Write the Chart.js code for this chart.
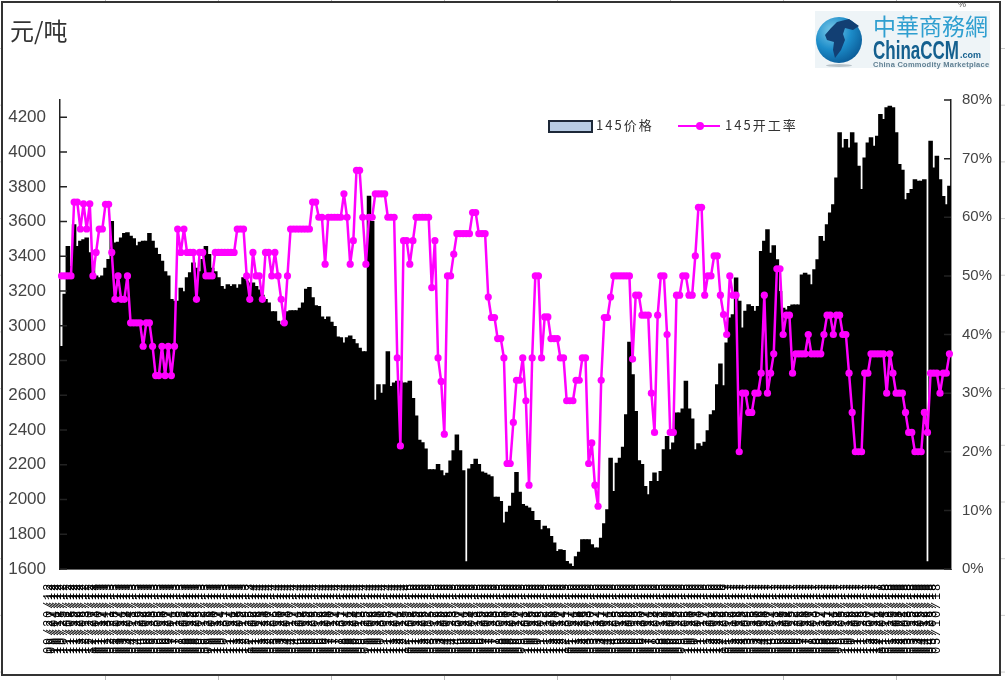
<!DOCTYPE html>
<html lang="zh">
<head>
<meta charset="utf-8">
<title>145价格 145开工率</title>
<script src="https://cdn.jsdelivr.net/npm/chart.js@4"></script>
<style>
  html, body { margin: 0; padding: 0; background: #fff; }
  #page {
    position: relative; width: 1005px; height: 680px; overflow: hidden;
    background:
      linear-gradient(90deg, #bbb 1px, transparent 1px) 105px 0 / 113px 100%,
      linear-gradient(#ccc 1px, transparent 1px) 0 48px / 100% 56.7px,
      #fff;
  }
  #frame {
    position: absolute; left: 1px; top: 1px; width: 996px; height: 671px;
    border: 2px solid #333; background: #fff;
  }
  canvas { position: absolute; left: 0; top: 0; }
  .txt { position: absolute; white-space: nowrap; font-family: "Noto Sans CJK SC", sans-serif; color: #333; }
  #unit { left: 10px; top: 13px; font-size: 24px; line-height: 34px; }
  #cut { left: 958px; top: -1px; font: 9px "Liberation Sans"; color: #555; }
  .leg { font-size: 13px; line-height: 16px; letter-spacing: 2px; color: #333; top: 117px; }
  #swatch { position: absolute; left: 548px; top: 120px; width: 41px; height: 9px; background: #b8cce4; border: 2px solid #1d2838; }
  #legline { position: absolute; left: 678px; top: 125px; width: 42px; height: 2px; background: #ff00ff; }
  #legdot { position: absolute; left: 696px; top: 122px; width: 8px; height: 8px; border-radius: 50%; background: #ff00ff; }
  #logo { position: absolute; left: 815px; top: 11px; width: 175px; height: 57px; background: #eef4f7; }
  #globe { position: absolute; left: 815px; top: 16px; width: 48px; height: 48px; }
  #shadow { position: absolute; left: 826px; top: 64px; width: 26px; height: 3px; border-radius: 50%; background: #b9c3c9; }
  #cn { left: 873px; top: 8px; font-size: 23px; line-height: 34px; color: #2f9fd0; }
  #en { left: 873px; top: 37px; font: bold 25px/26px "Liberation Sans"; color: #15608f; transform: scaleX(.68); transform-origin: 0 0; }
  #com { left: 960px; top: 49px; font: bold 9px/12px "Liberation Sans"; color: #15608f; }
  #sub { left: 873px; top: 60px; font: bold 7.5px/9px "Liberation Sans"; letter-spacing: .25px; color: #5f7f92; }
</style>
</head>
<body>
<div id="page">
  <div id="frame"></div>
  <canvas id="chart" width="1005" height="680"></canvas>
  <div class="txt" id="unit">元/吨</div>
  <div class="txt" id="cut">%</div>
  <div id="swatch"></div>
  <div class="txt leg" style="left:596px">145价格</div>
  <div id="legline"></div><div id="legdot"></div>
  <div class="txt leg" style="left:725px">145开工率</div>
  <div id="logo"></div>
  <svg id="globe" viewBox="0 0 48 48">
    <defs>
      <radialGradient id="sea" cx="35%" cy="30%" r="75%">
        <stop offset="0" stop-color="#7ccbea"/>
        <stop offset=".55" stop-color="#1c8cc9"/>
        <stop offset="1" stop-color="#0b5c98"/>
      </radialGradient>
    </defs>
    <circle cx="24" cy="24" r="23" fill="url(#sea)"/>
    <path d="M22 6 L34 3 L44 10 L38 14 L30 12 L28 18 L30 24 L26 34 L20 42 L18 34 L19 26 L12 24 L10 19 L16 12 Z" fill="#123f73"/>
  </svg>
  <div id="shadow"></div>
  <div class="txt" id="cn">中華商務網</div>
  <div class="txt" id="en">ChinaCCM</div>
  <div class="txt" id="com">.com</div>
  <div class="txt" id="sub">China Commodity Marketplace</div>
</div>
<script>
// =======================
// data
// =======================

const dates2012 = [
  '09/20/12','09/27/12','10/04/12','10/11/12','10/18/12','10/25/12','11/01/12','11/08/12','11/15/12','11/22/12',
  '11/29/12','12/06/12','12/13/12','12/20/12','12/27/12'
];
const dates2013 = [
  '01/03/13','01/10/13','01/17/13','01/24/13','01/31/13','02/21/13','02/28/13','03/07/13','03/14/13','03/21/13',
  '03/28/13','04/04/13','04/11/13','04/18/13','04/25/13','05/02/13','05/09/13','05/16/13','05/23/13','05/30/13',
  '06/06/13','06/13/13','06/20/13','06/27/13','07/04/13','07/11/13','07/18/13','07/25/13','08/01/13','08/08/13',
  '08/15/13','08/22/13','08/29/13','09/05/13','09/12/13','09/19/13','09/26/13','10/03/13','10/10/13','10/17/13',
  '10/24/13','10/31/13','11/07/13','11/14/13','11/21/13','11/28/13','12/05/13','12/12/13','12/19/13','12/26/13'
];
const dates2014 = [
  '01/02/14','01/09/14','01/16/14','01/23/14','02/13/14','02/20/14','02/27/14','03/06/14','03/13/14','03/20/14',
  '03/27/14','04/03/14','04/10/14','04/17/14','04/24/14','05/01/14','05/08/14','05/15/14','05/22/14','05/29/14',
  '06/05/14','06/12/14','06/19/14','06/26/14','07/03/14','07/10/14','07/17/14','07/24/14','07/31/14','08/07/14',
  '08/14/14','08/21/14','08/28/14','09/04/14','09/11/14','09/18/14','09/25/14','10/02/14','10/09/14','10/16/14',
  '10/23/14','10/30/14','11/06/14','11/13/14','11/20/14','11/27/14','12/04/14','12/11/14','12/18/14','12/25/14'
];
const dates2015 = [
  '01/01/15','01/08/15','01/15/15','01/22/15','01/29/15','02/05/15','02/12/15','03/05/15','03/12/15','03/19/15',
  '03/26/15','04/02/15','04/09/15','04/16/15','04/23/15','04/30/15','05/07/15','05/14/15','05/21/15','05/28/15',
  '06/04/15','06/11/15','06/18/15','06/25/15','07/02/15','07/09/15','07/16/15','07/23/15','07/30/15','08/06/15',
  '08/13/15','08/20/15','08/27/15','09/03/15','09/10/15','09/17/15','09/24/15','10/01/15','10/08/15','10/15/15',
  '10/22/15','10/29/15','11/05/15','11/12/15','11/19/15','11/26/15','12/03/15','12/10/15','12/17/15','12/24/15',
  '12/31/15'
];
const dates2016 = [
  '01/07/16','01/14/16','01/21/16','01/28/16','02/18/16','02/25/16','03/03/16','03/10/16','03/17/16','03/24/16',
  '03/31/16','04/07/16','04/14/16','04/21/16','04/28/16','05/05/16','05/12/16','05/19/16','05/26/16','06/02/16',
  '06/09/16','06/16/16','06/23/16','06/30/16','07/07/16','07/14/16','07/21/16','07/28/16','08/04/16','08/11/16',
  '08/18/16','08/25/16','09/01/16','09/08/16','09/15/16','09/22/16','09/29/16','10/06/16','10/13/16','10/20/16',
  '10/27/16','11/03/16','11/10/16','11/17/16','11/24/16','12/01/16','12/08/16','12/15/16','12/22/16','12/29/16'
];
const dates2017 = [
  '01/05/17','01/12/17','01/19/17','02/09/17','02/16/17','02/23/17','03/02/17','03/09/17','03/16/17','03/23/17',
  '03/30/17','04/06/17','04/13/17','04/20/17','04/27/17','05/04/17','05/11/17','05/18/17','05/25/17','06/01/17',
  '06/08/17','06/15/17','06/22/17','06/29/17','07/06/17','07/13/17','07/20/17','07/27/17','08/03/17','08/10/17',
  '08/17/17','08/24/17','08/31/17','09/07/17','09/14/17','09/21/17','09/28/17','10/05/17','10/12/17','10/19/17',
  '10/26/17','11/02/17','11/09/17','11/16/17','11/23/17','11/30/17','12/07/17','12/14/17','12/21/17','12/28/17'
];
const dates2018 = [
  '01/04/18','01/11/18','01/18/18','01/25/18','02/01/18','02/08/18','02/22/18','03/01/18','03/08/18','03/15/18',
  '03/22/18','03/29/18','04/05/18','04/12/18','04/19/18','04/26/18','05/03/18','05/10/18'
];
const categories = [...dates2012, ...dates2013, ...dates2014, ...dates2015, ...dates2016, ...dates2017, ...dates2018];

// 145价格 (元/吨)
const priceValues = [
  2880,3180,3455,3340,3580,3455,3485,3495,3505,3420,
  3360,3285,3275,3285,3330,3380,3600,3475,3480,3505,
  3530,3535,3515,3500,3460,3480,3485,3485,3530,3485,
  3445,3410,3370,3310,3285,3150,3140,3140,3215,3195,
  3275,3305,3360,3330,3310,3380,3455,3410,3330,3310,
  3275,3225,3210,3235,3225,3235,3215,3235,3275,3255,
  3245,3245,3225,3205,3175,3150,3130,3080,3080,3025,
  3005,3025,3080,3085,3085,3085,3100,3130,3210,3220,
  3160,3115,3110,3050,3035,3050,3020,2995,2935,2930,
  2900,2930,2940,2920,2895,2870,2850,2850,3745,3600,
  2570,2660,2610,2660,2850,2650,2670,2680,2680,2670,
  2670,2680,2580,2480,2340,2325,2290,2170,2170,2170,
  2200,2165,2135,2150,2220,2280,2370,2280,2165,1640,
  2175,2200,2230,2200,2157,2150,2140,2130,2012,2012,
  1988,1863,1925,1960,2035,2155,2040,1970,1960,1950,
  1930,1878,1878,1825,1845,1830,1786,1748,1700,1710,
  1705,1642,1627,1613,1670,1695,1767,1767,1767,1738,
  1720,1720,1776,1860,1940,2237,2045,2208,2237,2300,
  2487,2904,2717,2506,2222,2200,2074,2026,2103,2151,
  2103,2160,2285,2362,2285,2324,2497,2497,2520,2680,
  2520,2462,2285,2320,2305,2328,2395,2487,2510,2660,
  2779,2654,2900,3044,3063,3274,3140,2986,3082,3120,
  3110,3082,3110,3427,3485,3552,3417,3460,3379,3196,
  3100,3090,3110,3119,3119,3119,3292,3302,3292,3235,
  3321,3379,3513,3485,3581,3648,3696,3850,4110,4023,
  4071,4023,4110,4052,3917,3783,3965,4052,4081,4033,
  4090,4215,4187,4254,4263,4254,4110,3927,3894,3725,
  3760,3783,3840,3831,3831,3840,1640,4062,3908,3975,
  3840,3744,3696,3802
];

// 145开工率 (%)
const rateValues = [
  50,50,50,50,62.6,62.6,58,62.3,58,62.3,
  50,54,58,58,62.2,62.2,54,46,50,46,
  46,50,42,42,42,42,38,42,42,38,
  33,33,38,33,38,33,38,58,54,58,
  54,54,54,46,54,54,50,50,50,54,
  54,54,54,54,54,54,58,58,58,50,
  46,54,50,50,46,54,54,50,54,50,
  46,42,50,58,58,58,58,58,58,58,
  62.6,62.6,60,60,52,60,60,60,60,60,
  64,60,52,56,68,68,60,52,60,60,
  64,64,64,64,60,60,60,36,21,56,
  56,52,56,60,60,60,60,60,48,56,
  36,32,23,50,50,53.7,57.2,57.2,57.2,57.2,
  57.2,60.8,60.8,57.2,57.2,57.2,46.4,42.9,42.9,39.3,
  39.3,36,18,18,25,32.2,32.2,36,28.7,14.3,
  36,50,50,36,43,43,39.3,39.3,39.3,36,
  36,28.7,28.7,28.7,32.2,32.2,36,36,18,21.5,
  14.3,10.7,32.2,42.9,42.9,46.4,50,50,50,50,
  50,50,35.8,46.7,46.7,43.3,43.3,43.3,30,23.3,
  43.3,50,50,40,23.3,23.3,46.7,46.7,50,50,
  46.7,46.7,53.4,61.7,61.7,46.7,50,50,53.4,53.4,
  46.7,43.4,40,50,46.7,46.7,20,30,30,26.7,
  26.7,30,30,33.4,46.7,30,33.4,36.7,51.2,51.2,
  40,43.3,43.3,33.4,36.7,36.7,36.7,36.7,40,36.7,
  36.7,36.7,36.7,40,43.3,43.3,40,43.3,43.3,40,
  40,33.4,26.7,20,20,20,33.4,33.4,36.7,36.7,
  36.7,36.7,36.7,30,36.7,33.4,30,30,30,26.7,
  23.3,23.3,20,20,20,26.7,23.3,33.4,33.4,33.4,
  30,33.4,33.4,36.7
];

// =======================
// ticks drawn inward from the two value axes
// =======================

const inwardTicks = {
  id: 'inwardTicks',
  afterDatasetsDraw(chart) {
    const { ctx, scales } = chart;
    ctx.save();
    ctx.strokeStyle = '#222';
    ctx.lineWidth = 1.5;
    ctx.beginPath();
    scales.y.ticks.forEach((t, i) => {
      const py = scales.y.getPixelForTick(i);
      ctx.moveTo(scales.y.right, py);
      ctx.lineTo(scales.y.right + 7, py);
    });
    scales.y1.ticks.forEach((t, i) => {
      const py = scales.y1.getPixelForTick(i);
      ctx.moveTo(scales.y1.left, py);
      ctx.lineTo(scales.y1.left - 7, py);
    });
    ctx.stroke();
    ctx.restore();
    // date labels come after this hook (ticks.z = 1), the spacing only touches them
    ctx.letterSpacing = '1.8px';
  }
};

// =======================
// chart
// =======================

new Chart(document.getElementById('chart'), {
  type: 'bar',
  plugins: [inwardTicks],
  data: {
    labels: categories,
    datasets: [
      {
        type: 'line',
        label: '145开工率',
        data: rateValues,
        yAxisID: 'y1',
        order: 0,
        borderColor: '#ff00ff',
        backgroundColor: '#ff00ff',
        borderWidth: 2.5,
        borderJoinStyle: 'round',
        pointRadius: 3.6,
        pointBorderWidth: 0,
        tension: 0
      },
      {
        label: '145价格',
        data: priceValues,
        yAxisID: 'y',
        order: 1,
        backgroundColor: '#000',
        inflateAmount: 0.7,
        barPercentage: 1,
        categoryPercentage: 1
      }
    ]
  },
  options: {
    responsive: false,
    animation: false,
    events: [],
    layout: { padding: { top: 100 } },
    plugins: { legend: { display: false }, tooltip: { enabled: false } },
    scales: {
      x: {
        afterFit(scale) { scale.height = 111; },
        grid: { display: false },
        border: { color: '#666', width: 1 },
        ticks: {
          z: 1,
          autoSkip: false,
          minRotation: 90,
          maxRotation: 90,
          padding: 5,
          labelOffset: -13,
          color: '#000',
          font: { family: 'Liberation Mono', size: 12 }
        }
      },
      y: {
        position: 'left',
        min: 1600,
        max: 4300,
        afterFit(scale) { scale.width = 60; },
        grid: { drawOnChartArea: false, drawTicks: false },
        border: { color: '#222', width: 1.5 },
        ticks: {
          stepSize: 200,
          includeBounds: false,
          padding: 14,
          color: '#444',
          font: { family: 'Liberation Sans', size: 17 },
          callback: (v) => String(v)
        }
      },
      y1: {
        position: 'right',
        min: 0,
        max: 80,
        afterFit(scale) { scale.width = 54; },
        grid: { drawOnChartArea: false, drawTicks: false },
        border: { color: '#222', width: 1.5 },
        ticks: {
          stepSize: 10,
          padding: 11,
          color: '#444',
          font: { family: 'Liberation Sans', size: 15 },
          callback: (v) => v + '%'
        }
      }
    }
  }
});
</script>
</body>
</html>
